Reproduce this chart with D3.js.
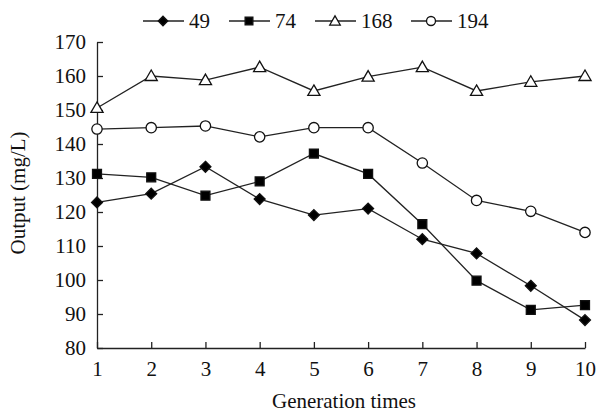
<!DOCTYPE html>
<html>
<head>
<meta charset="utf-8">
<script src="https://cdn.jsdelivr.net/npm/d3@7"></script>
<style>
  body { margin: 0; background: #fff; }
  text { font-family: "Liberation Serif", "Times New Roman", serif; fill: #111; }
</style>
</head>
<body>
<svg id="chart" width="598" height="412"></svg>
<script>
// data
const generations = [1, 2, 3, 4, 5, 6, 7, 8, 9, 10];
const s49  = [122.8, 125.4, 133.3, 123.8, 119.1, 121.0, 112.0, 107.8, 98.3, 88.2];
const s74  = [131.2, 130.2, 124.8, 129.0, 137.2, 131.2, 116.4, 99.8, 91.2, 92.6];
const s168 = [150.6, 160.0, 158.8, 162.6, 155.6, 159.8, 162.6, 155.6, 158.3, 160.0];
const s194 = [144.4, 144.8, 145.3, 142.1, 144.8, 144.8, 134.4, 123.4, 120.2, 114.0];
const seriesNames = ['49', '74', '168', '194'];
const yTicks = [80, 90, 100, 110, 120, 130, 140, 150, 160, 170];

const svg = d3.select('#chart');
const margin = { left: 97, right: 13, top: 42, bottom: 64 };
const w = 598 - margin.left - margin.right;
const h = 412 - margin.top - margin.bottom;
const fontSize = '21px';

const g = svg.append('g').attr('transform', `translate(${margin.left},${margin.top})`);

const x = d3.scaleLinear().domain([1, 10]).range([0, w]);
const y = d3.scaleLinear().domain([80, 170]).range([h, 0]);

// axes - ticks point inward
const xAxis = g.append('g')
  .attr('transform', `translate(0,${h})`)
  .call(d3.axisBottom(x).tickValues(generations).tickSizeInner(-6).tickSizeOuter(0).tickPadding(13));
const yAxis = g.append('g')
  .call(d3.axisLeft(y).tickValues(yTicks).tickSizeInner(-6).tickSizeOuter(0).tickPadding(11));

[xAxis, yAxis].forEach(a => {
  a.select('.domain').attr('stroke', '#222').attr('stroke-width', 1.3);
  a.selectAll('.tick line').attr('stroke', '#222').attr('stroke-width', 1.3);
  a.selectAll('.tick text')
    .style('font-family', '"Liberation Serif", serif')
    .style('font-size', fontSize)
    .attr('fill', '#111');
});

// axis titles
svg.append('text')
  .attr('x', 344)
  .attr('y', 408)
  .attr('text-anchor', 'middle')
  .style('font-size', fontSize)
  .text('Generation times');

svg.append('text')
  .attr('transform', `translate(25,193) rotate(-90)`)
  .attr('text-anchor', 'middle')
  .style('font-size', fontSize)
  .text('Output (mg/L)');

// marker styles
const symbols = {
  '49':  { type: d3.symbolDiamond2, size: 76, fill: '#000', dy: 0 },
  '74':  { type: d3.symbolSquare, size: 80, fill: '#000', dy: 0 },
  '168': { type: d3.symbolTriangle, size: 64, fill: '#fff', dy: 1 },
  '194': { type: d3.symbolCircle, size: 84, fill: '#fff', dy: 0 }
};

function drawMarker(sel, name, k) {
  const s = symbols[name];
  return sel.append('path')
    .attr('d', d3.symbol().type(s.type).size(s.size * k))
    .attr('transform', `translate(0,${s.dy})`)
    .attr('fill', s.fill)
    .attr('stroke', '#111')
    .attr('stroke-width', 1.3);
}

const allSeries = [s49, s74, s168, s194];
const line = d3.line().x((d, i) => x(generations[i])).y(d => y(d));

allSeries.forEach(vals => {
  g.append('path')
    .datum(vals)
    .attr('d', line)
    .attr('fill', 'none')
    .attr('stroke', '#222')
    .attr('stroke-width', 1.3);
});

allSeries.forEach((vals, k) => {
  vals.forEach((v, i) => {
    const m = g.append('g').attr('transform', `translate(${x(generations[i])},${y(v)})`);
    drawMarker(m, seriesNames[k], 1);
  });
});

// legend
const legendX = [143, 229, 315, 411];
const legend = svg.append('g').attr('transform', 'translate(0,21)');
seriesNames.forEach((name, k) => {
  const lg = legend.append('g').attr('transform', `translate(${legendX[k]},0)`);
  lg.append('line').attr('x1', 0).attr('x2', 41).attr('y1', 0).attr('y2', 0)
    .attr('stroke', '#222').attr('stroke-width', 1.3);
  const m = lg.append('g').attr('transform', 'translate(20,0)');
  drawMarker(m, name, 0.75);
  lg.append('text').attr('x', 46).attr('y', 7)
    .style('font-size', fontSize)
    .text(name);
});
</script>
</body>
</html>
